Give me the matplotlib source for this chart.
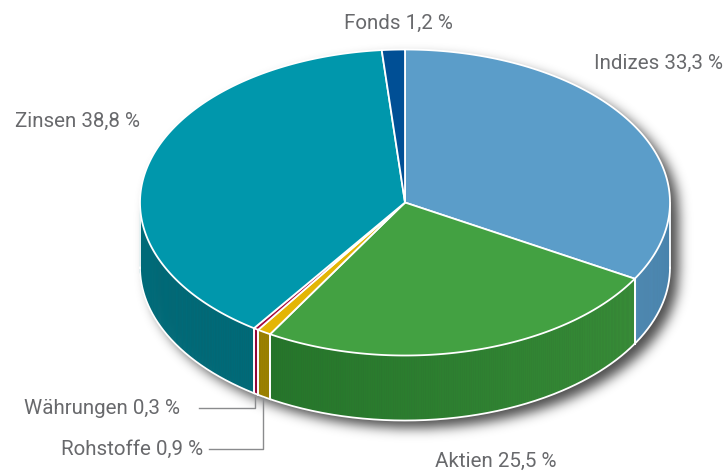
import matplotlib

matplotlib.use("Agg")
import matplotlib.pyplot as plt
import numpy as np
from matplotlib.patches import Polygon

names = ["Indizes", "Aktien", "Rohstoffe", "Währungen", "Zinsen", "Fonds"]
# slice sizes, they differ a little from the printed figures
shares = [33.3, 25.2, 0.85, 0.3, 38.95, 1.4]
share_labels = ["33,3 %", "25,5 %", "0,9 %", "0,3 %", "38,8 %", "1,2 %"]
top_colors = ["#5b9dc9", "#43a142", "#e3b505", "#a6093d", "#0097ac", "#004f95"]
side_left = ["#4f8cb6", "#25752a", "#9b8000", "#96083a", "#006a78", "#003f78"]
side_right = ["#4681aa", "#378c37", "#9b8000", "#96083a", "#006a78", "#003f78"]

W, H = 727, 471
CX, CY, RX, RY = 405, 202.5, 265, 153
DEPTH = 65
TEXT_COLOR = "#68696c"
LINE_COLOR = "#8a8b8d"

plt.rcParams["font.family"] = ["Roboto", "DejaVu Sans"]


def rim(theta):
    """Point on the top ellipse, theta in degrees clockwise from 12 o'clock."""
    t = np.radians(theta)
    return CX + RX * np.sin(t), CY - RY * np.cos(t)


def hex_mix(c1, c2, f):
    a = np.array(matplotlib.colors.to_rgb(c1))
    b = np.array(matplotlib.colors.to_rgb(c2))
    return a + (b - a) * f


def blur(img, sigma):
    r = int(3 * sigma)
    k = np.exp(-0.5 * (np.arange(-r, r + 1) / sigma) ** 2)
    k /= k.sum()
    img = np.apply_along_axis(lambda v: np.convolve(v, k, mode="same"), 0, img)
    return np.apply_along_axis(lambda v: np.convolve(v, k, mode="same"), 1, img)


fig = plt.figure(figsize=(W / 100, H / 100), dpi=100, facecolor="white")
ax = fig.add_axes([0, 0, 1, 1])
ax.set_xlim(0, W)
ax.set_ylim(H, 0)
ax.axis("off")

# soft shadow behind the pie, offset to the lower right
yy, xx = np.mgrid[0:H, 0:W]
ox, oy = 8, 7
top = ((xx - CX - ox) / RX) ** 2 + ((yy - CY - oy) / RY) ** 2 <= 1
low = ((xx - CX - ox) / RX) ** 2 + ((yy - CY - oy - DEPTH) / RY) ** 2 <= 1
mid = (np.abs(xx - CX - ox) <= RX) & (yy >= CY + oy) & (yy <= CY + oy + DEPTH)
shadow = blur((top | low | mid).astype(float), 6)
rgba = np.zeros((H, W, 4))
rgba[..., 3] = shadow * 0.7
ax.imshow(rgba, extent=(0, W, H, 0), zorder=1, aspect="auto")

edges = np.concatenate([[0], np.cumsum(shares) / np.sum(shares) * 360])

# outer wall, only the front half of the ellipse shows
for i in range(len(shares)):
    a0, a1 = max(edges[i], 90), min(edges[i + 1], 270)
    if a1 <= a0:
        continue
    n = max(int((a1 - a0) / 0.5), 1)
    steps = np.linspace(a0, a1, n + 1)
    for j in range(n):
        arc = np.linspace(steps[j], steps[j + 1], 4)
        x, y = rim(arc)
        pts = np.r_[np.c_[x, y], np.c_[x[::-1], y[::-1] + DEPTH]]
        # shade runs along x, dark at the left of the wall
        f = (steps[j] - a1) / (a0 - a1) if a1 != a0 else 0
        col = hex_mix(side_left[i], side_right[i], f)
        ax.add_patch(Polygon(pts, closed=True, fc=col, ec=col, lw=0.4, zorder=2))
    x, y = rim(np.linspace(a0, a1, 200))
    ax.plot(x, y + DEPTH, color="white", lw=1.3, zorder=3)
    for a in (a0, a1):
        if 90 < a < 270:
            px, py = rim(a)
            ax.plot([px, px], [py, py + DEPTH], color="white", lw=1.3, zorder=3)

# left and right silhouette of the wall
for a in (90, 270):
    px, py = rim(a)
    ax.plot([px, px], [py, py + DEPTH], color="white", lw=1.3, zorder=3)

# top face
for i in range(len(shares)):
    x, y = rim(np.linspace(edges[i], edges[i + 1], 200))
    pts = np.r_[[[CX, CY]], np.c_[x, y]]
    ax.add_patch(Polygon(pts, closed=True, fc=top_colors[i], ec="white", lw=1.3,
                         joinstyle="round", zorder=4))

# leader lines of the two thin slices
ax.plot([199, 255, 255], [408, 408, 397], color=LINE_COLOR, lw=1.0, zorder=5)
ax.plot([209, 262.5, 262.5], [448.5, 448.5, 398], color=LINE_COLOR, lw=1.0, zorder=5)

label_xy = {
    "Indizes": (594, 63, "left"),
    "Aktien": (435, 461, "left"),
    "Rohstoffe": (203, 449, "right"),
    "Währungen": (180, 409, "right"),
    "Zinsen": (15, 121, "left"),
    "Fonds": (344, 23, "left"),
}
for name, val in zip(names, share_labels):
    lx, ly, ha = label_xy[name]
    ax.text(lx, ly, f"{name} {val}", color=TEXT_COLOR, fontsize=14.8, ha=ha, va="center",
            fontweight="normal", zorder=6)

fig.savefig("out.png", dpi=100)
